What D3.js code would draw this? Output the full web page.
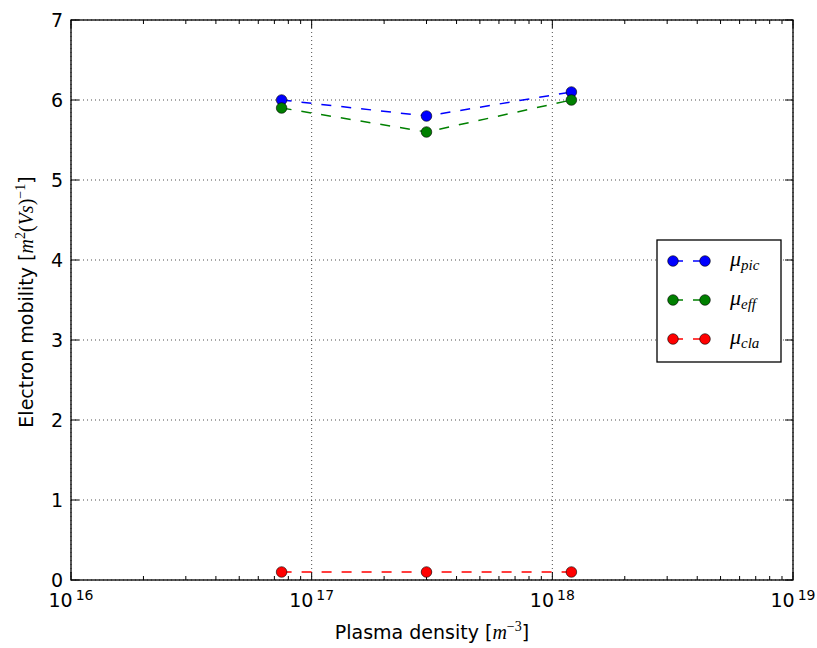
<!DOCTYPE html>
<html><head><meta charset="utf-8">
<script src="https://cdn.jsdelivr.net/npm/d3@7"></script>
<style>body{margin:0;background:#fff}</style>
</head><body>
<svg id="c" width="817" height="648"></svg>
<script>
const density = [7.5e16, 3.0e17, 1.2e18];
const muPic = [6.0, 5.8, 6.1];
const muEff = [5.9, 5.6, 6.0];
const muCla = [0.1, 0.1, 0.1];
const xTickExps = [16, 17, 18, 19];
const yTicks = [0, 1, 2, 3, 4, 5, 6, 7];
const series = [
  {name: "pic", values: muPic, color: "#0000ff"},
  {name: "eff", values: muEff, color: "#008000"},
  {name: "cla", values: muCla, color: "#ff0000"}
];

const svg = d3.select("#c");
const L = 71, R = 793, T = 20, B = 580;
const x = d3.scaleLog().domain([1e16, 1e19]).range([L, R]);
const y = d3.scaleLinear().domain([0, 7]).range([B, T]);
const font = "DejaVu Sans";
const mathFont = "Liberation Serif";

// grid
const g = svg.append("g");
xTickExps.forEach(e => {
  g.append("line").attr("x1", x(Math.pow(10, e))).attr("x2", x(Math.pow(10, e)))
    .attr("y1", T).attr("y2", B).attr("stroke", "#000").attr("stroke-width", 0.7)
    .attr("stroke-dasharray", "1,3");
});
yTicks.forEach(v => {
  g.append("line").attr("x1", L).attr("x2", R).attr("y1", y(v)).attr("y2", y(v))
    .attr("stroke", "#000").attr("stroke-width", 0.7).attr("stroke-dasharray", "1,3");
});

// ticks (inside, all four sides)
const minor = [];
for (let e = 16; e < 19; e++) for (let m = 2; m <= 9; m++) minor.push(m * Math.pow(10, e));
const tk = svg.append("g").attr("stroke", "#000").attr("stroke-width", 1);
minor.forEach(v => {
  tk.append("line").attr("x1", x(v)).attr("x2", x(v)).attr("y1", B).attr("y2", B - 4);
  tk.append("line").attr("x1", x(v)).attr("x2", x(v)).attr("y1", T).attr("y2", T + 4);
});
xTickExps.forEach(e => {
  const v = Math.pow(10, e);
  tk.append("line").attr("x1", x(v)).attr("x2", x(v)).attr("y1", B).attr("y2", B - 8);
  tk.append("line").attr("x1", x(v)).attr("x2", x(v)).attr("y1", T).attr("y2", T + 8);
});
yTicks.forEach(v => {
  tk.append("line").attr("x1", L).attr("x2", L + 8).attr("y1", y(v)).attr("y2", y(v));
  tk.append("line").attr("x1", R).attr("x2", R - 8).attr("y1", y(v)).attr("y2", y(v));
});

// tick labels
yTicks.forEach(v => {
  svg.append("text").attr("x", L - 8).attr("y", y(v)).attr("dy", "0.36em")
    .attr("text-anchor", "end").attr("font-family", font).attr("font-size", 19)
    .text(v);
});
xTickExps.forEach(e => {
  const t = svg.append("text").attr("x", x(Math.pow(10, e))).attr("y", 607)
    .attr("text-anchor", "middle").attr("font-family", font).attr("font-size", 19);
  t.append("tspan").text("10");
  t.append("tspan").attr("font-size", 14).attr("dy", -7).attr("dx", 3).text(e);
});

// axis labels
const xl = svg.append("text").attr("x", 432).attr("y", 639).attr("text-anchor", "middle")
  .attr("font-family", font).attr("font-size", 19);
xl.append("tspan").text("Plasma density [");
xl.append("tspan").attr("font-family", mathFont).attr("font-style", "italic").attr("font-size", 20).text("m");
xl.append("tspan").attr("font-family", mathFont).attr("font-size", 14).attr("dy", -8).text("−3");
xl.append("tspan").attr("dy", 8).text("]");

const yl = svg.append("text").attr("transform", "translate(33,302) rotate(-90)").attr("text-anchor", "middle")
  .attr("font-family", font).attr("font-size", 19);
yl.append("tspan").text("Electron mobility [");
yl.append("tspan").attr("font-family", mathFont).attr("font-style", "italic").attr("font-size", 20).text("m");
yl.append("tspan").attr("font-family", mathFont).attr("font-size", 14).attr("dy", -8).text("2");
yl.append("tspan").attr("font-family", mathFont).attr("font-size", 20).attr("dy", 8).text("(");
yl.append("tspan").attr("font-family", mathFont).attr("font-style", "italic").attr("font-size", 20).text("Vs");
yl.append("tspan").attr("font-family", mathFont).attr("font-size", 20).text(")");
yl.append("tspan").attr("font-family", mathFont).attr("font-size", 14).attr("dy", -8).text("−1");
yl.append("tspan").attr("dy", 8).text("]");

// series
const line = d3.line().x(d => x(d[0])).y(d => y(d[1]));
series.forEach(s => {
  const pts = density.map((d, i) => [d, s.values[i]]);
  svg.append("path").attr("d", line(pts)).attr("fill", "none").attr("stroke", s.color)
    .attr("stroke-width", 1.5).attr("stroke-dasharray", "10,10");
  svg.selectAll(null).data(pts).enter().append("circle")
    .attr("cx", d => x(d[0])).attr("cy", d => y(d[1])).attr("r", 5.3)
    .attr("fill", s.color).attr("stroke", "#000").attr("stroke-width", 0.6);
});

// frame
svg.append("rect").attr("x", L).attr("y", T).attr("width", R - L).attr("height", B - T)
  .attr("fill", "none").attr("stroke", "#000").attr("stroke-width", 1.3);

// legend
const lg = svg.append("g");
lg.append("rect").attr("x", 657).attr("y", 240).attr("width", 124).attr("height", 122)
  .attr("fill", "#fff").attr("stroke", "#000").attr("stroke-width", 1.3);
series.forEach((s, i) => {
  const cy = 261 + i * 39;
  lg.append("line").attr("x1", 673).attr("x2", 705).attr("y1", cy).attr("y2", cy)
    .attr("stroke", s.color).attr("stroke-width", 1.5).attr("stroke-dasharray", "10,10");
  [673, 705].forEach(cx => lg.append("circle").attr("cx", cx).attr("cy", cy).attr("r", 5.3)
    .attr("fill", s.color).attr("stroke", "#000").attr("stroke-width", 0.6));
  const t = lg.append("text").attr("x", 730).attr("y", cy + 5).attr("font-family", mathFont)
    .attr("font-style", "italic").attr("font-size", 22);
  t.append("tspan").text("μ");
  t.append("tspan").attr("font-size", 15).attr("dy", 4).text(s.name);
});
</script>
</body></html>
